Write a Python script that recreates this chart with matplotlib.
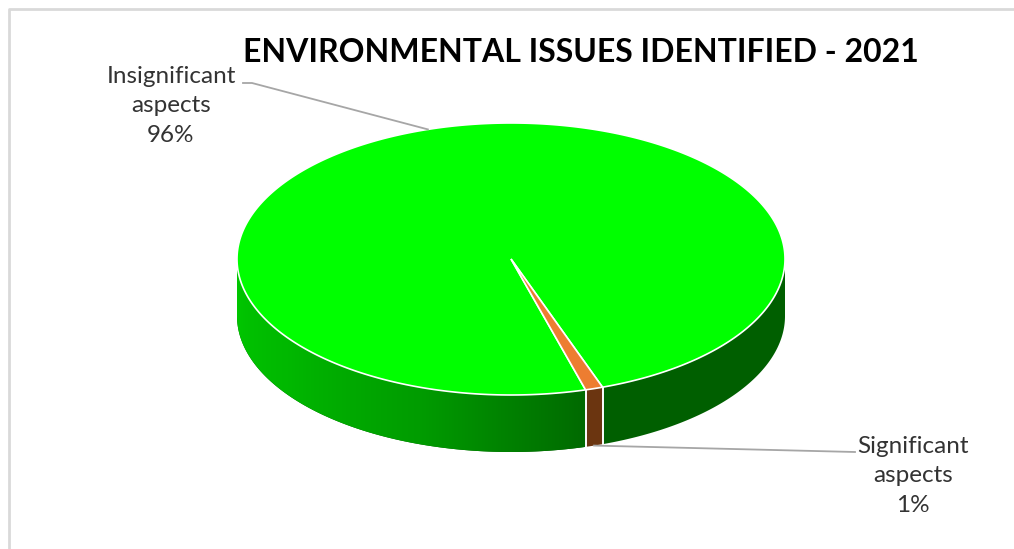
import numpy as np
import matplotlib.pyplot as plt
from matplotlib.patches import Polygon
from matplotlib.colors import LinearSegmentedColormap

# data
categories = ['Insignificant\naspects', 'Significant\naspects']
values = [96, 1]
title = 'ENVIRONMENTAL ISSUES IDENTIFIED - 2021'

top_colors = ['#00ff00', '#ed7d31']
side_colors = ['#005f00', '#6b3510']
green_grad = LinearSegmentedColormap.from_list('g', ['#00c800', '#00b800', '#009c00', '#006a00'])

W, H = 1014, 549
fig = plt.figure(figsize=(W / 100, H / 100), dpi=100)
ax = fig.add_axes([0, 0, 1, 1])
ax.set_xlim(0, W)
ax.set_ylim(H, 0)
ax.axis('off')

# pie geometry in pixels (screen angle: clockwise from east)
cx, cy, a, b, depth = 511, 259, 274, 136, 57
start = 74.2


def rim(t, dz=0.0):
    r = np.radians(t)
    return cx + a * np.cos(r), cy + b * np.sin(r) + dz


fr = np.array(values, dtype=float) / np.sum(values) * 360.0
edges = start + np.concatenate([[0], np.cumsum(fr)])

# side walls (front half only)
for i in range(len(values)):
    t0, t1 = edges[i], edges[i + 1]
    for m in (0, 360, 720):
        lo, hi = max(t0, m), min(t1, m + 180)
        if hi <= lo:
            continue
        ts = np.linspace(lo, hi, 300) - m
        xt, yt = rim(ts)
        xb, yb = rim(ts[::-1], depth)
        wall = Polygon(np.column_stack([np.r_[xt, xb], np.r_[yt, yb]]), closed=True,
                       facecolor=side_colors[i], edgecolor='none')
        ax.add_patch(wall)
        if i == 0 and hi - m >= 179.9:
            # shaded left wall: gradient along x
            x0, x1 = xt.min(), xt.max()
            xs = np.linspace(x0, x1, 400)
            th = np.degrees(np.arccos(np.clip((xs - cx) / a, -1, 1)))
            u = (180 - th) / (180 - (lo - m))
            img = green_grad(u)[None, :, :]
            im = ax.imshow(img, extent=[x0, x1, yt.max() + depth + 2, yt.min() - 2],
                           aspect='auto', interpolation='bilinear', zorder=1.5)
            im.set_clip_path(wall)
        # white seams on the wall
        for t in (lo - m, hi - m):
            if 0.5 < t < 179.5:
                x, y = rim(t)
                ax.plot([x, x], [y, y + depth], color='white', lw=1.2, zorder=2)

# top face
for i in range(len(values)):
    ts = np.linspace(edges[i], edges[i + 1], 400)
    xs, ys = rim(ts)
    pts = np.column_stack([np.r_[cx, xs], np.r_[cy, ys]])
    ax.add_patch(Polygon(pts, closed=True, facecolor=top_colors[i], edgecolor='white', lw=1.2, zorder=3))

# labels with leader lines
mids = 0.5 * (edges[:-1] + edges[1:])
lab_pos = [(171, 106), (913, 476)]
for i in range(len(values)):
    ax.text(lab_pos[i][0], lab_pos[i][1], f'{categories[i]}\n{values[i]}%', ha='center', va='center',
            fontsize=17.5, family='Lato', color='#333333', linespacing=1.5, zorder=4)
gx, gy = rim(mids[0] % 360)
ax.plot([243, 252, gx], [83, 83, gy], color='#a6a6a6', lw=1.3, zorder=4)
sx, sy = rim(mids[1] % 360, depth)
ax.plot([sx, 855], [sy, 452], color='#a6a6a6', lw=1.3, zorder=4)

ax.text(581, 52, title, ha='center', va='center', fontsize=23, fontweight='bold', family='Lato', color='black')

# chart frame
ax.plot([9, 9, W], [H, 9, 9], color='#d9d9d9', lw=2)

fig.savefig('out.png', dpi=100)
